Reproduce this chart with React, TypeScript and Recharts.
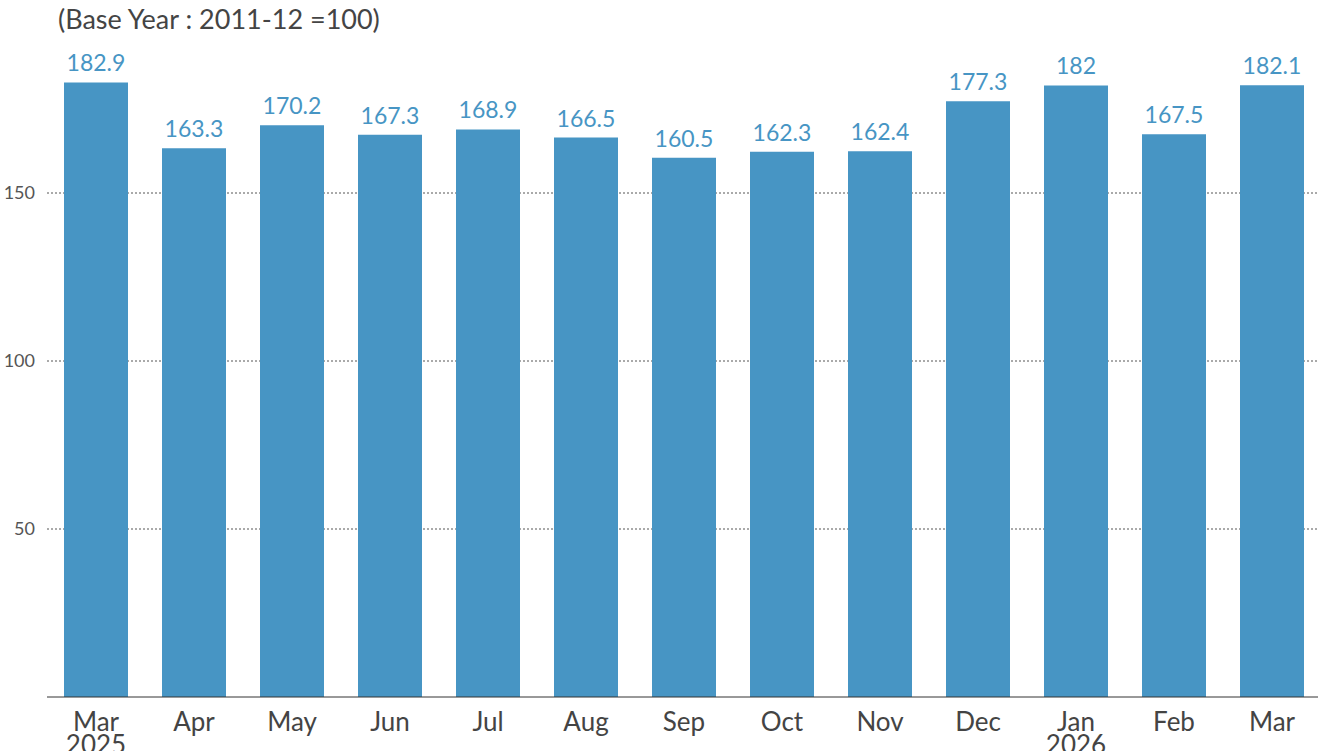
import { BarChart, Bar, XAxis, YAxis, CartesianGrid, LabelList } from 'recharts';

const months = ['Mar', 'Apr', 'May', 'Jun', 'Jul', 'Aug', 'Sep', 'Oct', 'Nov', 'Dec', 'Jan', 'Feb', 'Mar'];
const years = ['2025', '', '', '', '', '', '', '', '', '', '2026', '', ''];
const values = [182.9, 163.3, 170.2, 167.3, 168.9, 166.5, 160.5, 162.3, 162.4, 177.3, 182, 167.5, 182.1];
const yTicks = [50, 100, 150];

const data = months.map((m, i) => ({ key: i, month: m, year: years[i], value: values[i] }));

const FONT = 'Lato, "Open Sans", sans-serif';
const BLUE = '#4795c4';

function MonthTick(props: any) {
  const { x, y, payload } = props;
  const d = data[payload.value];
  return (
    <g transform={`translate(${x},${y})`}>
      <text textAnchor="middle" fill="#444" fontSize={26} fontFamily={FONT} y={26}>
        {d.month}
      </text>
      {d.year && (
        <text textAnchor="middle" fill="#444" fontSize={26} fontFamily={FONT} y={49}>
          {d.year}
        </text>
      )}
    </g>
  );
}

export default function App() {
  return (
    <div style={{ position: 'absolute', left: 0, top: 0, width: 1318, height: 751, overflow: 'hidden', background: '#fff' }}>
      <div style={{ position: 'absolute', left: 58, top: 3, fontFamily: FONT, fontSize: 27, color: '#444', lineHeight: '32px' }}>
        (Base Year : 2011-12 =100)
      </div>
      <BarChart
        width={1321}
        height={751}
        data={data}
        margin={{ top: 25, right: 0, bottom: 0, left: 0 }}
        barCategoryGap="17%"
      >
        <CartesianGrid vertical={false} stroke="#555" strokeDasharray="2 2" horizontalValues={yTicks} />
        <XAxis
          dataKey="key"
          height={54}
          tick={<MonthTick />}
          tickLine={false}
          axisLine={{ stroke: '#333' }}
          interval={0}
        />
        <YAxis
          width={47}
          domain={[0, 200]}
          ticks={yTicks}
          tickLine={false}
          axisLine={false}
          tick={{ fill: '#555', fontSize: 18, fontFamily: FONT }}
          tickMargin={6}
        />
        <Bar dataKey="value" fill={BLUE} barSize={64} isAnimationActive={false}>
          <LabelList dataKey="value" position="top" offset={11} fill={BLUE} fontSize={23} fontFamily={FONT} />
        </Bar>
      </BarChart>
    </div>
  );
}
